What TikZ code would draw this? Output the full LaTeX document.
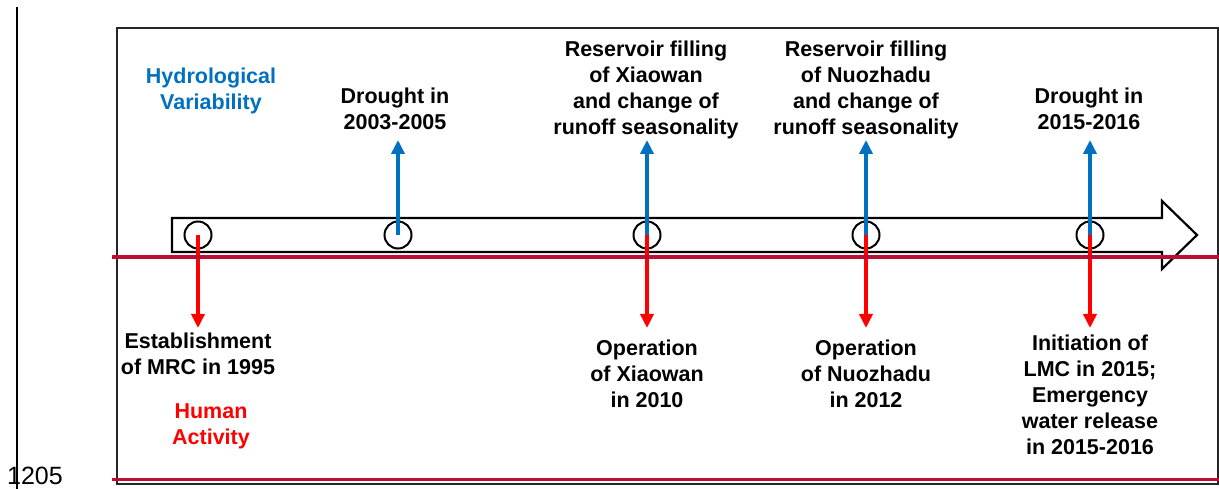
\documentclass[tikz,border=0pt]{standalone}
\usepackage{fontspec}
\setmainfont{Liberation Sans}
\usetikzlibrary{arrows.meta}
\definecolor{hydroblue}{RGB}{0,112,192}
\definecolor{humanred}{RGB}{255,0,0}
\definecolor{railred}{RGB}{185,15,50}

\begin{document}
\begin{tikzpicture}[x=1pt, y=-1pt,
  every node/.style={font=\fontsize{21.5}{26}\selectfont\bfseries, align=center},
  event/.style={circle, draw, line width=2pt, minimum size=27pt, inner sep=0pt},
  hydro/.style={hydroblue, line width=3.8pt, -{Triangle[width=13pt,length=14pt]}},
  human/.style={humanred, line width=3.8pt, -{Triangle[width=13pt,length=14pt]}}]
\useasboundingbox (0,0) rectangle (1219,489);

% Page margin and frame
\draw[line width=2pt] (17,7) -- (17,489);
\node[font=\fontsize{25}{25}\selectfont, inner sep=0pt] (pagenum) at (35,476) {1205};
\draw[line width=1.6pt, black!85] (117,28) rectangle (1218,484);

% Time arrow
\draw[line width=2.2pt] (172,218) -- (1162,218) -- (1162,201) -- (1197,235)
  -- (1162,269) -- (1162,252) -- (172,252) -- cycle;

% Events on the time line
\node[event] (mrc) at (198,235) {};
\node[event] (dry1) at (398,235) {};
\node[event] (xw) at (647,235) {};
\node[event] (nzd) at (866,235) {};
\node[event] (dry2) at (1090,235) {};

% Hydrological variability (above)
\node[text=hydroblue] (hydlabel) at (211,91) {Hydrological\\Variability};
\node (dry1txt) at (395,109) {Drought in\\2003-2005};
\node (xwfill) at (646,90) {Reservoir filling\\of Xiaowan\\and change of\\runoff seasonality};
\node (nzdfill) at (866,90) {Reservoir filling\\of Nuozhadu\\and change of\\runoff seasonality};
\node (dry2txt) at (1089,109) {Drought in\\2015-2016};

\coordinate (up1) at (398,140);
\coordinate (up2) at (647,140);
\coordinate (up3) at (866,140);
\coordinate (up4) at (1090,140);
\draw[hydro] (dry1.center) -- (up1);
\draw[hydro] (xw.center) -- (up2);
\draw[hydro] (nzd.center) -- (up3);
\draw[hydro] (dry2.center) -- (up4);

% Human activity (below)
\node (mrctxt) at (198,354) {Establishment\\of MRC in 1995};
\node[text=humanred] (humlabel) at (211,426) {Human\\Activity};
\node (xwop) at (647,374) {Operation\\of Xiaowan\\in 2010};
\node (nzdop) at (866,374) {Operation\\of Nuozhadu\\in 2012};
\node (lmc) at (1090,395) {Initiation of\\LMC in 2015;\\Emergency\\water release\\in 2015-2016};

\coordinate (dn1) at (198,328);
\coordinate (dn2) at (647,328);
\coordinate (dn3) at (866,328);
\coordinate (dn4) at (1090,328);
\draw[human] (mrc.center) -- (dn1);
\draw[human] (xw.center) -- (dn2);
\draw[human] (nzd.center) -- (dn3);
\draw[human] (dry2.center) -- (dn4);

% Dividing rules
\draw[railred, line width=3.5pt] (112,257) -- (1219,257);
\draw[railred, line width=3pt] (112,479) -- (1219,479);
\end{tikzpicture}
\end{document}
